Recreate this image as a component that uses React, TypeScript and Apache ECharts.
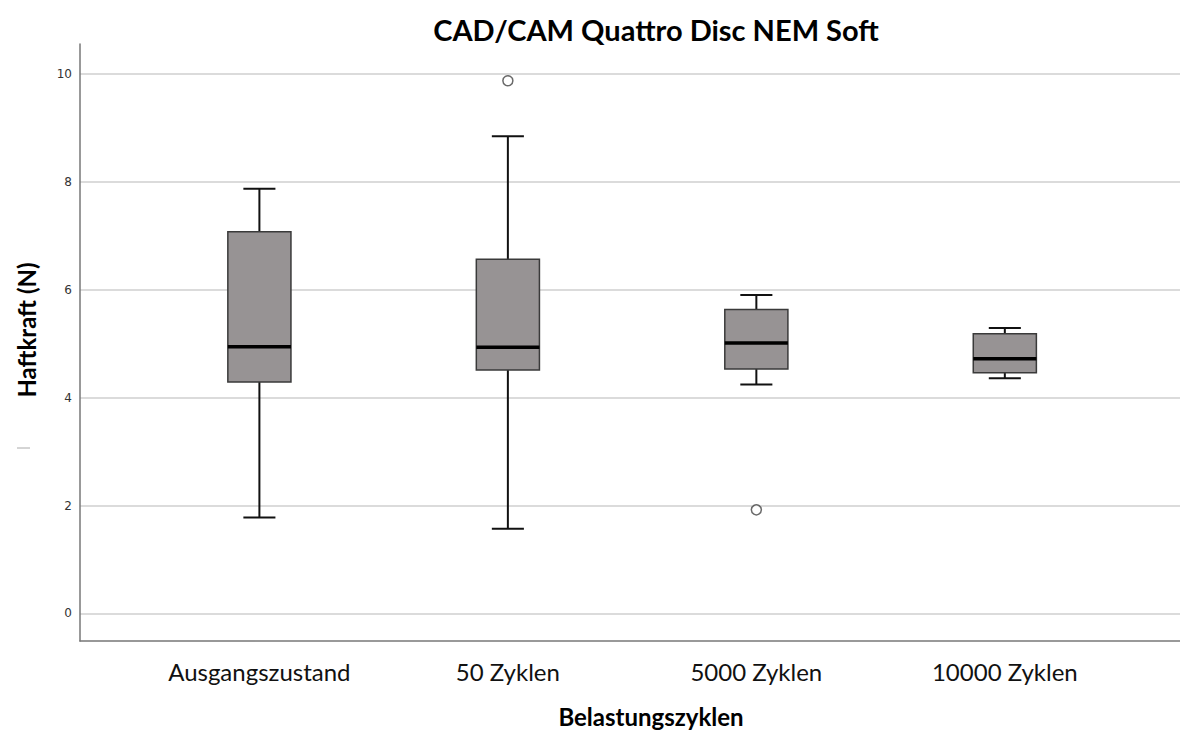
import React, { useEffect, useRef } from "react";
import * as echarts from "echarts";

const categories = ["Ausgangszustand", "50 Zyklen", "5000 Zyklen", "10000 Zyklen"];
const positions = [1, 2, 3, 4];
const whiskerLow = [1.78, 1.57, 4.24, 4.36];
const q1 = [4.29, 4.51, 4.53, 4.46];
const median = [4.94, 4.93, 5.01, 4.72];
const q3 = [7.07, 6.56, 5.63, 5.18];
const whiskerHigh = [7.87, 8.84, 5.9, 5.29];
const outlierPos = [2, 3];
const outlierVal = [9.87, 1.92];
const yTicks = [0, 2, 4, 6, 8, 10];

export default function App() {
  const ref = useRef<HTMLDivElement>(null);
  useEffect(() => {
    if (!ref.current) return;
    const chart = echarts.init(ref.current, null, { renderer: "svg" });
    const boxData = positions.map((p, i) => [p, whiskerLow[i], q1[i], median[i], q3[i], whiskerHigh[i]]);
    const outData = outlierPos.map((p, i) => [p, outlierVal[i]]);
    chart.setOption({
      animation: false,
      backgroundColor: "#ffffff",
      title: {
        text: "CAD/CAM Quattro Disc NEM Soft",
        left: 651,
        textAlign: "center",
        top: 10,
        textStyle: { fontFamily: "Lato", fontWeight: "bold", fontSize: 29, color: "#000" },
      },
      grid: { left: 80, right: 0, top: 44, bottom: 90, outerBoundsMode: "none", containLabel: false },
      xAxis: {
        type: "value",
        min: 0.278,
        max: 4.705,
        name: "Belastungszyklen",
        nameLocation: "middle",
        nameGap: 63,
        nameTextStyle: { fontFamily: "Lato", fontWeight: "bold", fontSize: 24, color: "#000", padding: [0, 0, 0, 42] },
        axisLine: { show: true, onZero: false, lineStyle: { color: "#777", width: 1.5 } },
        axisTick: { show: false },
        splitLine: { show: false },
        axisLabel: {
          customValues: positions,
          formatter: (v: number) => categories[Math.round(v) - 1] ?? "",
          fontFamily: "Lato",
          fontSize: 24,
          color: "#111",
          margin: 18,
        },
      },
      yAxis: {
        type: "value",
        min: -0.51,
        max: 10.55,
        name: "Haftkraft (N)",
        nameLocation: "middle",
        nameGap: 42,
        nameTextStyle: { fontFamily: "Lato", fontWeight: "bold", fontSize: 24, color: "#000", padding: [0, 0, 0, 25] },
        axisLine: { show: true, onZero: false, lineStyle: { color: "#777", width: 1.5 } },
        axisTick: { show: false, customValues: yTicks },
        splitLine: { show: true, lineStyle: { color: "#cfcfcf", width: 1.5 } },
        axisLabel: {
          customValues: yTicks,
          fontFamily: "DejaVu Sans",
          fontSize: 12,
          color: "#333",
          margin: 8,
        },
      },
      graphic: [
        { type: "line", shape: { x1: 17, y1: 448, x2: 30, y2: 448 }, style: { stroke: "#aaa", lineWidth: 1 } },
      ],
      series: [
        {
          type: "custom",
          data: boxData,
          encode: { x: 0, y: [1, 2, 3, 4, 5] },
          renderItem: (params: any, api: any) => {
            const x = api.value(0);
            const lo = api.coord([x, api.value(1)]);
            const b1 = api.coord([x, api.value(2)]);
            const m = api.coord([x, api.value(3)]);
            const b3 = api.coord([x, api.value(4)]);
            const hi = api.coord([x, api.value(5)]);
            const unit = api.size([1, 0])[0];
            const bw = unit * 0.254;
            const cw = unit * 0.129;
            const cx = lo[0];
            const wStyle = { stroke: "#111", lineWidth: 2 };
            return {
              type: "group",
              children: [
                { type: "line", shape: { x1: cx, y1: lo[1], x2: cx, y2: b1[1] }, style: wStyle },
                { type: "line", shape: { x1: cx, y1: hi[1], x2: cx, y2: b3[1] }, style: wStyle },
                { type: "line", shape: { x1: cx - cw / 2, y1: lo[1], x2: cx + cw / 2, y2: lo[1] }, style: wStyle },
                { type: "line", shape: { x1: cx - cw / 2, y1: hi[1], x2: cx + cw / 2, y2: hi[1] }, style: wStyle },
                {
                  type: "rect",
                  shape: { x: cx - bw / 2, y: b3[1], width: bw, height: b1[1] - b3[1] },
                  style: { fill: "#979394", stroke: "#3a3a3a", lineWidth: 1.5 },
                },
                { type: "line", shape: { x1: cx - bw / 2, y1: m[1], x2: cx + bw / 2, y2: m[1] }, style: { stroke: "#000", lineWidth: 3.5 } },
              ],
            };
          },
        },
        {
          type: "scatter",
          data: outData,
          symbol: "circle",
          symbolSize: 10,
          itemStyle: { color: "#fff", borderColor: "#444", borderWidth: 1.5 },
        },
      ],
    });
    return () => chart.dispose();
  }, []);
  return <div ref={ref} style={{ position: "absolute", left: 0, top: 0, width: 1180, height: 731 }} />;
}
